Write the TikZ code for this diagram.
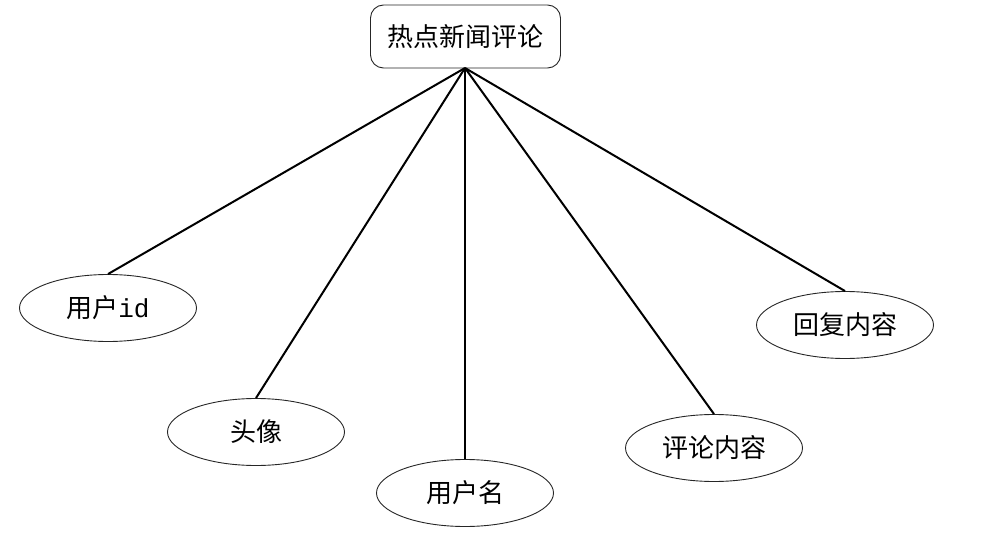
\documentclass[tikz,border=0pt]{standalone}
\usepackage{fontspec}
\setmainfont{Noto Sans CJK SC}
\newfontfamily\latinmono{Liberation Mono}
\usetikzlibrary{shapes.geometric}
\begin{document}
\begin{tikzpicture}[x=1pt,y=-1pt,
  attr/.style={draw=black!85,line width=0.9pt,ellipse,minimum width=177pt,minimum height=67pt,inner sep=0pt,font=\fontsize{26}{30}\selectfont},
  root/.style={draw=black!85,line width=0.9pt,rounded corners=13pt,minimum width=190pt,minimum height=63pt,inner sep=0pt,font=\fontsize{26}{30}\selectfont},
  link/.style={line width=2pt}]
\useasboundingbox (0,0) rectangle (991,543);
\node[root] (r) at (465.5,36.5) {热点新闻评论};
\node[attr] (a) at (108,308) {用户{\latinmono id}};
\node[attr] (b) at (256,432) {头像};
\node[attr] (c) at (465,493) {用户名};
\node[attr] (d) at (714,448) {评论内容};
\node[attr] (e) at (845,325) {回复内容};
\coordinate (o) at (465,68);
\draw[link] (o) -- (a.north);
\draw[link] (o) -- (b.north);
\draw[link] (o) -- (c.north);
\draw[link] (o) -- (d.north);
\draw[link] (o) -- (e.north);
\end{tikzpicture}
\end{document}
